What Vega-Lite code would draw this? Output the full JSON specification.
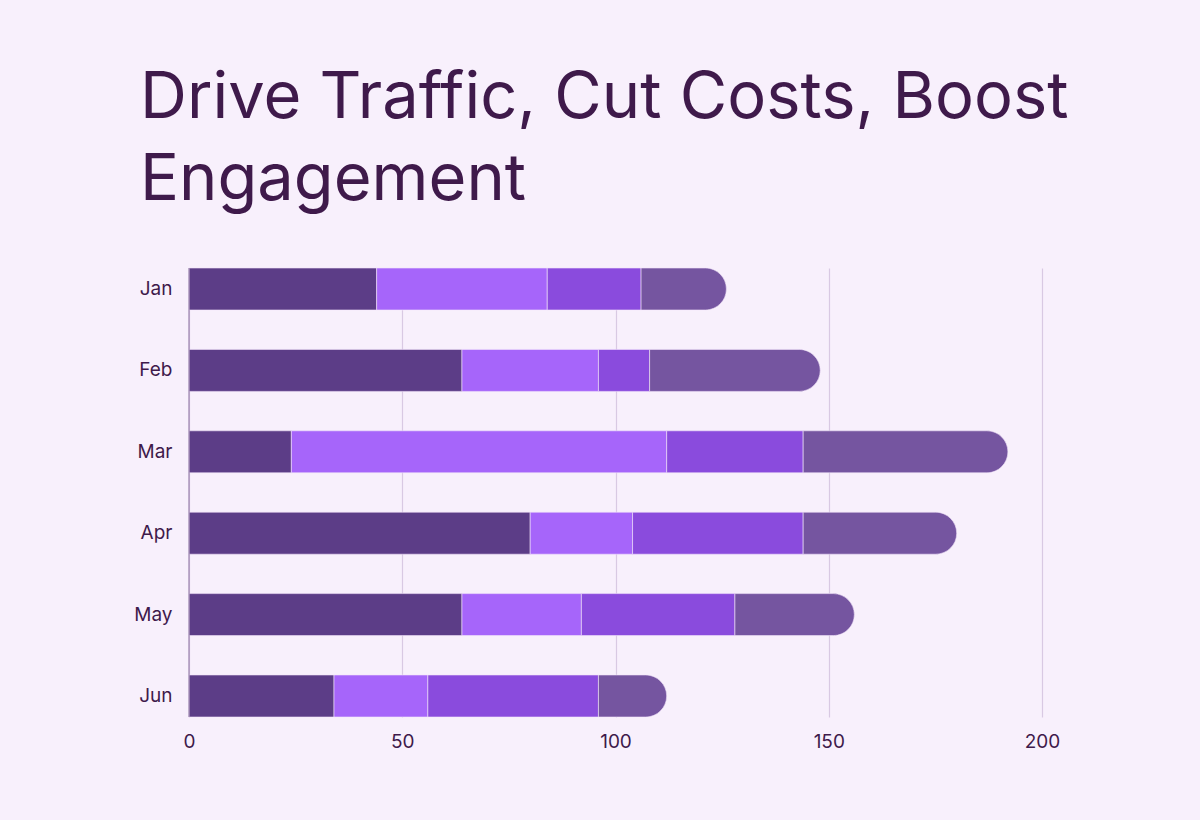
{
  "$schema": "https://vega.github.io/schema/vega-lite/v6.json",
  "autosize": "none",
  "width": 853,
  "height": 449,
  "padding": {"left": 189, "top": 268, "right": 158, "bottom": 103},
  "background": "#f8f0fc",
  "config": {"view": {"stroke": null}},
  "title": {
    "text": ["Drive Traffic, Cut Costs, Boost", "Engagement"],
    "anchor": "start",
    "frame": "group",
    "dx": -49,
    "offset": 53,
    "font": "Inter",
    "fontSize": 65,
    "fontWeight": 400,
    "color": "#3f1a4b",
    "lineHeight": 82
  },
  "data": {
    "values": [
      {"month": "Jan", "series": "Segment 1", "order": 1, "value": 44},
      {"month": "Jan", "series": "Segment 2", "order": 2, "value": 40},
      {"month": "Jan", "series": "Segment 3", "order": 3, "value": 22},
      {"month": "Jan", "series": "Segment 4", "order": 4, "value": 20},
      {"month": "Feb", "series": "Segment 1", "order": 1, "value": 64},
      {"month": "Feb", "series": "Segment 2", "order": 2, "value": 32},
      {"month": "Feb", "series": "Segment 3", "order": 3, "value": 12},
      {"month": "Feb", "series": "Segment 4", "order": 4, "value": 40},
      {"month": "Mar", "series": "Segment 1", "order": 1, "value": 24},
      {"month": "Mar", "series": "Segment 2", "order": 2, "value": 88},
      {"month": "Mar", "series": "Segment 3", "order": 3, "value": 32},
      {"month": "Mar", "series": "Segment 4", "order": 4, "value": 48},
      {"month": "Apr", "series": "Segment 1", "order": 1, "value": 80},
      {"month": "Apr", "series": "Segment 2", "order": 2, "value": 24},
      {"month": "Apr", "series": "Segment 3", "order": 3, "value": 40},
      {"month": "Apr", "series": "Segment 4", "order": 4, "value": 36},
      {"month": "May", "series": "Segment 1", "order": 1, "value": 64},
      {"month": "May", "series": "Segment 2", "order": 2, "value": 28},
      {"month": "May", "series": "Segment 3", "order": 3, "value": 36},
      {"month": "May", "series": "Segment 4", "order": 4, "value": 28},
      {"month": "Jun", "series": "Segment 1", "order": 1, "value": 34},
      {"month": "Jun", "series": "Segment 2", "order": 2, "value": 22},
      {"month": "Jun", "series": "Segment 3", "order": 3, "value": 40},
      {"month": "Jun", "series": "Segment 4", "order": 4, "value": 16}
    ]
  },
  "transform": [
    {"stack": "value", "groupby": ["month"], "sort": [{"field": "order", "order": "ascending"}], "as": ["start", "end"]}
  ],
  "encoding": {
    "y": {
      "field": "month",
      "type": "nominal",
      "sort": ["Jan", "Feb", "Mar", "Apr", "May", "Jun"],
      "scale": {"paddingInner": 0.484, "paddingOuter": 0},
      "axis": {
        "title": null,
        "ticks": false,
        "domain": false,
        "labelPadding": 17,
        "labelFont": "Inter",
        "labelFontSize": 19,
        "labelColor": "#3f1a4b"
      }
    },
    "x": {
      "field": "start",
      "type": "quantitative",
      "scale": {"domain": [0, 200], "nice": false},
      "axis": {
        "title": null,
        "values": [0, 50, 100, 150, 200],
        "ticks": false,
        "domain": false,
        "grid": true,
        "gridColor": "#d9c9e3",
        "gridWidth": 1.2,
        "labelFlush": false,
        "labelAlign": "center",
        "labelPadding": 15,
        "labelFont": "Inter",
        "labelFontSize": 19,
        "labelColor": "#3f1a4b"
      }
    },
    "x2": {"field": "end"},
    "color": {
      "field": "series",
      "type": "nominal",
      "scale": {
        "domain": ["Segment 1", "Segment 2", "Segment 3", "Segment 4"],
        "range": ["#5c3d87", "#a665fa", "#8a4bdd", "#7555a0"]
      },
      "legend": null
    }
  },
  "layer": [
    {
      "transform": [{"filter": "datum.order < 4"}],
      "mark": {"type": "bar", "stroke": "#f3e6fa", "strokeWidth": 0.6}
    },
    {
      "transform": [{"filter": "datum.order == 4"}],
      "mark": {"type": "bar", "cornerRadiusTopRight": 21, "cornerRadiusBottomRight": 21, "stroke": "#f3e6fa", "strokeWidth": 0.6}
    },
    {
      "mark": {"type": "rule", "color": "#9b84ad", "strokeWidth": 1.2},
      "data": {"values": [{"x": 0}]},
      "transform": [],
      "encoding": {
        "x": {"field": "x", "type": "quantitative"},
        "y": null,
        "x2": null,
        "color": null
      }
    }
  ]
}
